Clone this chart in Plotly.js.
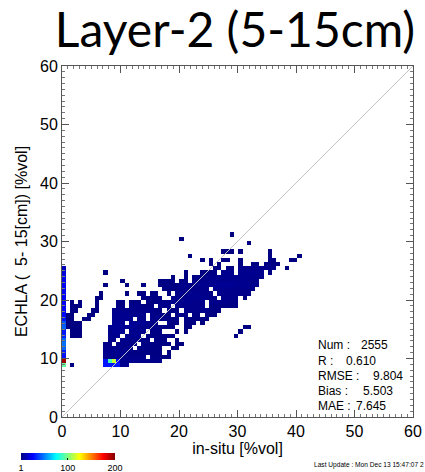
<!DOCTYPE html>
<html><head><meta charset="utf-8">
<script src="https://cdn.plot.ly/plotly-3.0.1.min.js"></script>
<style>html,body{margin:0;padding:0;background:#fff;}#chart{width:425px;height:472px;}</style>
</head><body><div id="chart"></div>
<script>
// ---- data ----
// occupied rows of the 2-D histogram: each row lists runs as [xStart, xEnd, count] triples
const rowY = [31.1, 30.3, 29.5, 28.5, 27.8, 27.1, 26.3, 25.5, 24.8, 24.2, 23.4, 22.7, 22.0, 21.1, 20.4, 19.7, 18.9, 18.1, 17.4, 16.6, 15.8, 15.2, 14.4, 13.7, 13.0, 12.3, 11.6, 10.9, 10.1, 9.5, 8.9];
const rowRuns = [
  [28.8,28.8,1],
  [20.5,20.5,1],
  [31.9,31.9,1],
  [27.4,28.3,1, 29.0,29.0,1, 30.2,30.2,1, 35.7,35.7,1],
  [21.6,21.6,1, 35.7,35.7,2, 40.5,40.5,1],
  [24.2,24.2,1, 25.4,25.4,1, 27.5,28.3,2, 30.8,30.8,1, 35.3,36.0,2, 38.8,39.6,1],
  [25.4,25.4,1, 27.1,27.1,1, 30.8,30.8,2, 32.6,33.1,2, 34.7,36.3,2, 37.0,37.0,1],
  [26.4,27.1,2, 28.5,29.3,2, 30.8,31.6,3, 32.5,34.2,3, 34.5,36.5,3, 38.3,38.3,1],
  [7.1,7.1,1, 20.8,20.8,1, 23.9,23.9,1, 25.0,26.4,2, 27.7,29.3,4, 30.2,31.9,4, 32.6,34.2,4, 35.4,35.8,2],
  [19.3,19.3,1, 20.8,20.8,1, 22.8,23.9,2, 24.8,26.4,3, 27.1,29.0,4, 29.8,32.6,4, 33.4,34.2,3],
  [10.0,10.5,1, 16.8,18.8,2, 20.5,21.1,2, 22.2,24.5,3, 25.4,27.7,4, 28.5,31.1,4, 31.9,33.7,3],
  [7.1,7.1,1, 10.8,10.8,1, 13.7,14.2,1, 16.8,17.7,2, 18.5,19.4,2, 20.2,22.2,3, 23.4,25.4,4, 26.2,28.8,5, 29.6,33.1,4],
  [17.7,19.4,2, 20.2,21.6,3, 22.4,24.5,3, 25.96,28.3,4, 29.1,30.5,3, 31.3,32.5,3],
  [6.5,6.5,1, 10.8,10.8,1, 13.1,14.2,2, 15.1,16.2,2, 18.0,18.0,1, 19.4,20.8,3, 21.6,23.4,4, 24.2,25.1,3, 26.8,28.3,3, 29.1,31.7,3],
  [5.7,6.5,1, 14.2,15.4,2, 16.2,17.1,2, 18.8,20.2,3, 21.1,23.9,4, 24.8,26.4,3, 27.4,29.7,3, 31.1,31.1,1],
  [1.9,1.9,1, 2.8,3.4,1, 5.7,6.2,1, 9.4,10.0,2, 11.4,13.1,2, 14.8,16.0,2, 16.8,18.2,3, 19.1,21.6,4, 22.4,24.2,3, 25.4,28.5,3, 29.1,29.7,2],
  [1.7,2.5,1, 3.1,3.1,1, 5.7,5.7,1, 9.4,10.0,2, 11.4,13.7,3, 14.2,15.1,2, 17.1,18.5,3, 19.4,20.5,3, 21.3,24.2,3, 25.1,27.96,2, 28.8,29.7,2],
  [1.4,2.2,1, 5.4,6.0,1, 8.8,10.8,3, 11.9,13.1,3, 13.9,15.1,3, 16.0,17.1,2, 18.2,19.4,2, 21.1,22.2,3, 23.1,24.5,3, 25.4,26.8,2],
  [1.1,2.0,1, 4.5,5.4,1, 8.8,10.8,4, 11.7,14.2,4, 15.4,17.1,3, 17.7,18.5,2, 19.9,21.1,3, 22.2,23.4,2, 24.5,26.2,2],
  [1.1,1.9,1, 3.7,4.5,1, 8.8,12.0,4, 13.1,14.2,3, 15.1,17.4,3, 18.5,19.4,2, 20.8,22.2,2, 23.1,24.5,2],
  [1.1,3.4,1, 8.8,10.5,5, 11.4,13.7,5, 14.5,16.0,3, 18.2,19.9,2, 21.1,22.8,2, 23.96,23.96,1],
  [1.1,1.7,1, 2.2,3.1,1, 7.95,9.6,5, 10.5,12.5,5, 13.4,16.0,3, 17.1,18.8,2, 21.1,21.1,1, 21.96,21.96,1, 31.4,32.0,1],
  [1.7,2.8,1, 7.95,8.5,3, 9.1,10.5,5, 11.4,14.2,4, 15.4,17.1,2, 19.4,19.4,1, 20.8,20.8,1, 30.5,30.5,1],
  [2.0,3.1,1, 7.95,9.6,4, 10.8,13.1,4, 14.8,16.5,2, 17.7,19.1,2, 29.6,29.6,1],
  [7.95,8.8,3, 10.0,11.4,3, 12.5,13.1,3, 13.7,14.8,2, 16.2,17.7,2, 19.9,19.9,1],
  [7.1,8.5,3, 9.6,12.5,3, 14.2,18.2,2, 19.4,20.5,1],
  [7.1,9.4,3, 10.2,11.9,3, 13.1,17.1,2, 18.8,19.9,1],
  [7.1,10.8,4, 11.7,13.7,2, 14.5,17.1,2, 18.2,18.2,1],
  [7.1,11.4,3, 12.3,14.2,3, 15.1,16.8,2, 17.7,18.5,1],
  [10.0,12.5,4, 13.4,16.8,3],
  [1.66,1.66,1, 7.1,9.4,30, 10.0,10.8,4]
];
// column of cells at in-situ = 0
const colZeroX = 0.3;
const colZeroY = [8.9, 9.6, 10.3, 11.0, 11.8, 12.5, 13.2, 13.9, 14.6, 15.4, 16.1, 16.8, 17.5, 18.2, 19.0, 19.7, 20.4, 21.1, 21.8, 22.6, 23.3, 24.0, 24.7, 25.4];
const colZeroN = [95, 195, 28, 30, 45, 48, 45, 32, 30, 45, 42, 30, 27, 26, 25, 25, 24, 25, 24, 24, 22, 22, 18, 12];
// high-count cells near (8, 9.6)
const hotX = [7.45, 8.17, 8.89, 9.61];
const hotY = [9.6, 9.6, 9.6, 9.6];
const hotN = [30, 90, 115, 25];

const statLabels = ["Num :", "R :", "RMSE :", "Bias :", "MAE :"];
const statValues = ["2555", "0.610", "9.804", "5.503", "7.645"];
const cbTicks = [1, 100, 200];
const axisRange = [0, 60];

// ---- build histogram grid ----
const BIN = 0.72, C0 = 0.24, N = 84;
const idx = v => Math.round((v - C0) / BIN);
const z = [];
for (let i = 0; i < N; i++) z.push(new Array(N).fill(null));
rowY.forEach((y, r) => {
  const runs = rowRuns[r], iy = idx(y);
  for (let k = 0; k < runs.length; k += 3) {
    for (let ix = idx(runs[k]); ix <= idx(runs[k + 1]); ix++) z[iy][ix] = runs[k + 2];
  }
});
colZeroY.forEach((y, i) => { z[idx(y)][idx(colZeroX)] = colZeroN[i]; });
hotX.forEach((x, i) => { z[idx(hotY[i])][idx(x)] = hotN[i]; });

const jet = [[0,'rgb(0,0,128)'],[0.125,'rgb(0,0,255)'],[0.375,'rgb(0,255,255)'],[0.625,'rgb(255,255,0)'],[0.875,'rgb(255,0,0)'],[1,'rgb(128,0,0)']];

const PX0 = 62, PX1 = 413, PY0 = 66, PY1 = 417;
const W = PX1 - PX0, H = PY1 - PY0;
const px2paperX = p => (p - PX0) / W;
const py2paperY = p => (PY1 - p) / H;

const traces = [
  {type:'heatmap', z:z, x0:C0, dx:BIN, y0:C0, dy:BIN, zmin:1, zmax:200, colorscale:jet,
   zsmooth:false, hoverinfo:'skip',
   colorbar:{orientation:'h', x:px2paperX(21), xanchor:'left', y:py2paperY(453), yanchor:'top',
     len:94, lenmode:'pixels', thickness:7, thicknessmode:'pixels', xpad:0, ypad:0,
     outlinewidth:0, tickvals:cbTicks, ticktext:cbTicks.map(String), ticks:'inside', ticklen:2,
     tickcolor:'#000', tickfont:{family:'Liberation Sans', size:9, color:'#000'}}},
  {type:'scatter', mode:'lines', x:axisRange, y:axisRange, line:{color:'#c4c4c4', width:1}, hoverinfo:'skip', showlegend:false}
];

const statY = [12.3, 9.6, 7.0, 4.4, 1.9];
const valX = [50.8, 48.2, 52.8, 51.1, 49.9];
const ann = [];
statLabels.forEach((t, i) => {
  ann.push({xref:'x', yref:'y', x:43.4, y:statY[i], text:t, showarrow:false, xanchor:'left', yanchor:'middle',
    font:{family:'Liberation Sans', size:12, color:'#000'}});
  ann.push({xref:'x', yref:'y', x:valX[i], y:statY[i], text:statValues[i], showarrow:false, xanchor:'left', yanchor:'middle',
    font:{family:'Liberation Sans', size:12, color:'#000'}});
});
ann.push({xref:'paper', yref:'paper', x:px2paperX(312), y:py2paperY(465), text:'Last Update : Mon Dec 13 15:47:07 2',
  showarrow:false, xanchor:'left', yanchor:'middle', font:{family:'Liberation Sans', size:6.6, color:'#000'}});

const axisCommon = {range:axisRange, dtick:10, ticks:'inside', ticklen:7, tickcolor:'#555', showline:true,
  linecolor:'#555', linewidth:1, mirror:'allticks', showgrid:false, zeroline:false,
  minor:{dtick:1, ticks:'inside', ticklen:3, tickcolor:'#777', showgrid:false},
  tickfont:{family:'Liberation Sans', size:16, color:'#000'}};

const layout = {
  width:425, height:472, margin:{l:PX0, r:425-PX1, t:PY0, b:472-PY1, autoexpand:false}, paper_bgcolor:'#fff', plot_bgcolor:'#fff',
  showlegend:false,
  title:{text:'Layer-2 (5-15cm)', font:{family:'Lato', size:48, color:'#000'}, xref:'container', yref:'container',
    x:235/425, xanchor:'center', y:1-30/472, yanchor:'middle'},
  xaxis:Object.assign({}, axisCommon, {automargin:false, title:{text:'in-situ [%vol]', font:{family:'Liberation Sans', size:16, color:'#000'}, standoff:0}}),
  yaxis:Object.assign({}, axisCommon, {automargin:false, title:{text:'ECHLA (\u00a0\u00a05- 15[cm]) [%vol]', font:{family:'Liberation Sans', size:16, color:'#000'}, standoff:8}}),
  annotations:ann
};
Plotly.newPlot('chart', traces, layout, {displayModeBar:false, staticPlot:true});
</script></body></html>
